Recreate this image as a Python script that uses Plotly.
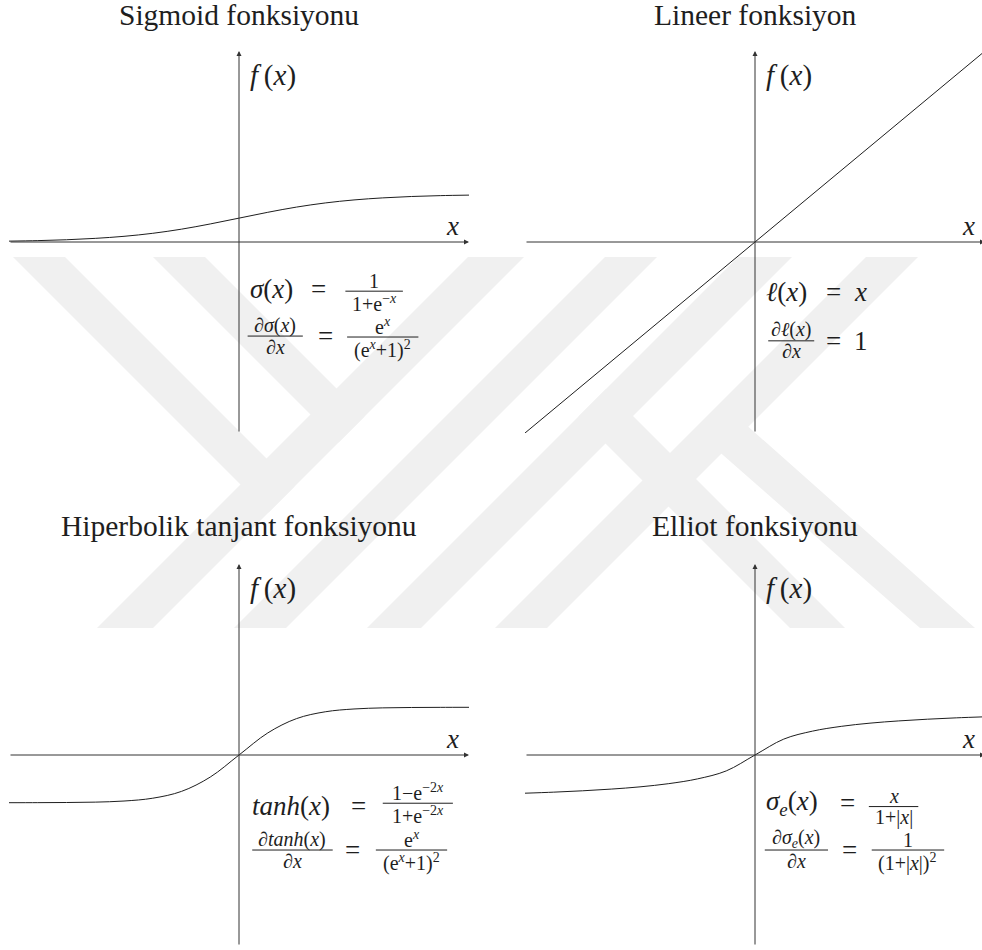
import plotly.graph_objects as go

W, H = 982, 950
UNIT_X, UNIT_Y = 57.5, 47.75   # pixels per unit along x and y
LIM = 4
SERIF = 'Liberation Serif, Times New Roman, serif'
INK = '#1e1e1e'
WATERMARK = '#f0f0f0'

# sampled curve values (x from -4 to 4)
X_VALUES = [-4.0, -3.5, -3.0, -2.5, -2.0, -1.5, -1.0, -0.5, 0.0,
            0.5, 1.0, 1.5, 2.0, 2.5, 3.0, 3.5, 4.0]
SIGMOID_VALUES = [0.018, 0.029, 0.047, 0.076, 0.119, 0.182, 0.269, 0.378, 0.5,
                  0.622, 0.731, 0.818, 0.881, 0.924, 0.953, 0.971, 0.982]
LINEAR_X = [-4.0, 4.0]
LINEAR_VALUES = [-4.0, 4.0]
TANH_VALUES = [-0.999, -0.998, -0.995, -0.987, -0.964, -0.905, -0.762, -0.462, 0.0,
               0.462, 0.762, 0.905, 0.964, 0.987, 0.995, 0.998, 0.999]
ELLIOT_VALUES = [-0.8, -0.778, -0.75, -0.714, -0.667, -0.6, -0.5, -0.333, 0.0,
                 0.333, 0.5, 0.6, 0.667, 0.714, 0.75, 0.778, 0.8]

TITLES = ['Sigmoid fonksiyonu', 'Lineer fonksiyon',
          'Hiperbolik tanjant fonksiyonu', 'Elliot fonksiyonu']

# pixel position of each panel's origin
ORIGINS = [(239, 242), (755, 242), (239, 755), (755, 755)]
TITLE_Y = [15, 15, 526, 526]

# background watermark bands, pixel polygons
BANDS = [
    [(13, 257), (65, 257), (294.5, 486.5), (268.5, 512.5)],
    [(153, 257), (205, 257), (364.5, 416.5), (338.5, 442.5)],
    [(97, 628), (153, 628), (524, 257), (468, 257)],
    [(234, 628), (286, 628), (657, 257), (605, 257)],
    [(367, 628), (421, 628), (792, 257), (738, 257)],
    [(495, 628), (547, 628), (918, 257), (866, 257)],
    [(578.5, 416.5), (606, 389), (845, 628), (790, 628)],
    [(707, 441), (734, 414), (975, 628), (920, 628)],
]

fig = go.Figure()
annotations = []
shapes = []


def axis_box(cx, cy):
    left = cx - LIM * UNIT_X
    right = min(W, cx + LIM * UNIT_X)
    top = cy - LIM * UNIT_Y
    bottom = min(H, cy + LIM * UNIT_Y)
    xdom = [left / W, right / W]
    xrng = [(left - cx) / UNIT_X, (right - cx) / UNIT_X]
    ydom = [1 - bottom / H, 1 - top / H]
    yrng = [(cy - bottom) / UNIT_Y, (cy - top) / UNIT_Y]
    return xdom, xrng, ydom, yrng


def text(xr, yr, x, y, s, size, anchor='left'):
    annotations.append(dict(xref=xr, yref=yr, x=x, y=y, text=s, showarrow=False,
                            xanchor=anchor, yanchor='middle',
                            font=dict(family=SERIF, size=size, color=INK)))


def frac(xr, yr, xc, y, half, num, den, size=20):
    shapes.append(dict(type='line', xref=xr, yref=yr, x0=xc - half, x1=xc + half,
                       y0=y, y1=y, line=dict(color=INK, width=1)))
    annotations.append(dict(xref=xr, yref=yr, x=xc, y=y, text=num, showarrow=False,
                            xanchor='center', yanchor='bottom', borderpad=0, yshift=-1.5,
                            font=dict(family=SERIF, size=size, color=INK)))
    annotations.append(dict(xref=xr, yref=yr, x=xc, y=y, text=den, showarrow=False,
                            xanchor='center', yanchor='top', borderpad=0, yshift=1.5,
                            font=dict(family=SERIF, size=size, color=INK)))


layout_axes = {}
curves = [(X_VALUES, SIGMOID_VALUES), (LINEAR_X, LINEAR_VALUES),
          (X_VALUES, TANH_VALUES), (X_VALUES, ELLIOT_VALUES)]

for i, (cx, cy) in enumerate(ORIGINS):
    n = '' if i == 0 else str(i + 1)
    xr, yr = 'x' + n, 'y' + n
    xdom, xrng, ydom, yrng = axis_box(cx, cy)
    layout_axes['xaxis' + n] = dict(domain=xdom, range=xrng, visible=False,
                                    fixedrange=True, anchor=yr)
    layout_axes['yaxis' + n] = dict(domain=ydom, range=yrng, visible=False,
                                    fixedrange=True, anchor=xr)

    xs, ys = curves[i]
    fig.add_trace(go.Scatter(x=xs, y=ys, mode='lines', xaxis=xr, yaxis=yr,
                             line=dict(color=INK, width=1, shape='spline'),
                             hoverinfo='skip', showlegend=False))

    # axes with arrow heads
    for tip, tail in [((LIM, 0), (-LIM, 0)), ((0, LIM), (0, -LIM))]:
        annotations.append(dict(xref=xr, yref=yr, axref=xr, ayref=yr,
                                x=tip[0], y=tip[1], ax=tail[0], ay=tail[1],
                                text='', showarrow=True, arrowhead=2, arrowsize=1,
                                arrowwidth=1, arrowcolor='#333333'))

    text(xr, yr, 0.15, 3.48, '<i>f</i>\u2009(<i>x</i>)', 29)
    text(xr, yr, 3.72, 0.33, '<i>x</i>', 27, anchor='center')

    annotations.append(dict(xref='paper', yref='paper', x=cx / W, y=1 - TITLE_Y[i] / H,
                            text=TITLES[i], showarrow=False, xanchor='center',
                            yanchor='middle',
                            font=dict(family=SERIF, size=29.5, color=INK)))

# formulas
ex = 'e<sup><i>x</i></sup>'
ex_den = '(e<sup><i>x</i></sup>+1)<sup>2</sup>'

# sigmoid
text('x', 'y', 0.16, -0.98, '<i>σ</i>(<i>x</i>)', 27)
text('x', 'y', 1.39, -0.98, '=', 27, anchor='center')
frac('x', 'y', 2.35, -1.03, 0.5, '1', '1+e<sup>−<i>x</i></sup>')
frac('x', 'y', 0.63, -1.97, 0.48, '∂<i>σ</i>(<i>x</i>)', '∂<i>x</i>')
text('x', 'y', 1.50, -1.97, '=', 27, anchor='center')
frac('x', 'y', 2.50, -1.99, 0.62, ex, ex_den)

# linear
text('x2', 'y2', 0.16, -1.05, '<i>ℓ</i>(<i>x</i>)', 27)
text('x2', 'y2', 1.37, -1.05, '=', 27, anchor='center')
text('x2', 'y2', 1.83, -1.05, '<i>x</i>', 27, anchor='center')
frac('x2', 'y2', 0.63, -2.07, 0.4, '∂<i>ℓ</i>(<i>x</i>)', '∂<i>x</i>')
text('x2', 'y2', 1.37, -2.07, '=', 27, anchor='center')
text('x2', 'y2', 1.84, -2.07, '1', 27, anchor='center')

# tanh
text('x3', 'y3', 0.19, -1.07, '<i>tanh</i>(<i>x</i>)', 27)
text('x3', 'y3', 2.07, -1.07, '=', 27, anchor='center')
frac('x3', 'y3', 3.11, -1.01, 0.61, '1−e<sup>−2<i>x</i></sup>', '1+e<sup>−2<i>x</i></sup>')
frac('x3', 'y3', 0.93, -1.99, 0.70, '∂<i>tanh</i>(<i>x</i>)', '∂<i>x</i>')
text('x3', 'y3', 1.98, -1.99, '=', 27, anchor='center')
frac('x3', 'y3', 3.0, -1.99, 0.62, ex, ex_den)

# elliot
text('x4', 'y4', 0.16, -1.0, '<i>σ</i><sub><i>e</i></sub>(<i>x</i>)', 27)
text('x4', 'y4', 1.60, -1.0, '=', 27, anchor='center')
frac('x4', 'y4', 2.41, -1.08, 0.43, '<i>x</i>', '1+|<i>x</i>|')
frac('x4', 'y4', 0.72, -1.99, 0.55, '∂<i>σ</i><sub><i>e</i></sub>(<i>x</i>)', '∂<i>x</i>')
text('x4', 'y4', 1.64, -1.99, '=', 27, anchor='center')
frac('x4', 'y4', 2.66, -1.99, 0.63, '1', '(1+|<i>x</i>|)<sup>2</sup>')

# watermark
for band in BANDS:
    path = 'M ' + ' L '.join(f'{px / W:.5f},{1 - py / H:.5f}' for px, py in band) + ' Z'
    shapes.append(dict(type='path', xref='paper', yref='paper', path=path,
                       fillcolor=WATERMARK, line=dict(width=0), layer='below'))

fig.update_layout(
    width=W,
    height=H,
    margin=dict(l=0, r=0, t=0, b=0),
    paper_bgcolor='white',
    plot_bgcolor='rgba(0,0,0,0)',
    showlegend=False,
    annotations=annotations,
    shapes=shapes,
    **layout_axes,
)

fig.write_html("out.html",
               config={'displayModeBar': False},
               post_script="document.body.style.margin='0';"
                           "document.body.style.overflow='hidden';")
